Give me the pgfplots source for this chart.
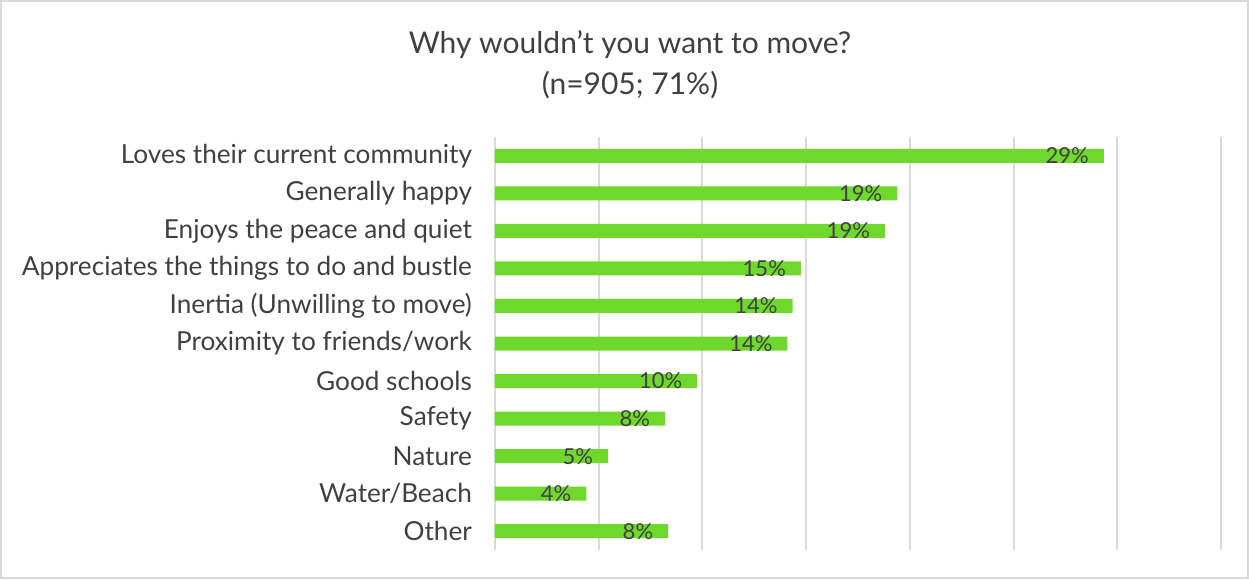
\documentclass[border=0pt]{standalone}
\usepackage{fontspec}
\setmainfont{Lato}
\usepackage{pgfplots}
\pgfplotsset{compat=1.18}
\definecolor{bargreen}{RGB}{111,216,44}
\definecolor{txt}{RGB}{64,64,64}
\definecolor{gridgray}{RGB}{217,217,217}
\begin{document}
\begin{tikzpicture}
% frame of the chart area (1249 x 579 px, 1px = 0.5pt)
\draw[gridgray, line width=1pt] (0.5pt,0.5pt) rectangle (624pt,289pt);
\node[txt, font=\fontsize{15}{17}\selectfont] at (315pt,267pt) {Why wouldn't you want to move?};
\node[txt, font=\fontsize{15}{17}\selectfont] at (315pt,247pt) {(n=905; 71\%)};
\begin{axis}[
  at={(247.5pt,14.5pt)}, anchor=south west,
  scale only axis,
  width=363pt, height=206.5pt,
  xbar, bar width=7pt,
  xmin=0, xmax=35,
  ymin=-0.5, ymax=10.5,
  y dir=reverse,
  axis line style={draw=none},
  xtick={0,5,...,35},
  xticklabels={},
  xmajorgrids=true,
  grid style={gridgray, line width=1pt},
  major tick length=0pt,
  ytick={0,...,10},
  yticklabels={Loves their current community,Generally happy,Enjoys the peace and quiet,Appreciates the things to do and bustle,Inertia (Unwilling to move),Proximity to friends/work,Good schools,Safety,Nature,Water/Beach,Other},
  yticklabel style={font=\fontsize{13.1}{15}\selectfont, text=txt, xshift=-8pt},
  nodes near coords={\pgfmathprintnumber[fixed,precision=0]{\pgfplotspointmeta}\%},
  nodes near coords style={anchor=east, xshift=-4pt, font=\fontsize{11}{13}\selectfont, text=txt},
  /pgf/number format/assume math mode=true,
  clip=false,
]
\addplot[draw=none, fill=bargreen] coordinates {
  (29.35,0) (19.4,1) (18.8,2) (14.75,3) (14.35,4) (14.1,5) (9.75,6) (8.2,7) (5.45,8) (4.4,9) (8.35,10)
};
\end{axis}
\end{tikzpicture}
\end{document}
